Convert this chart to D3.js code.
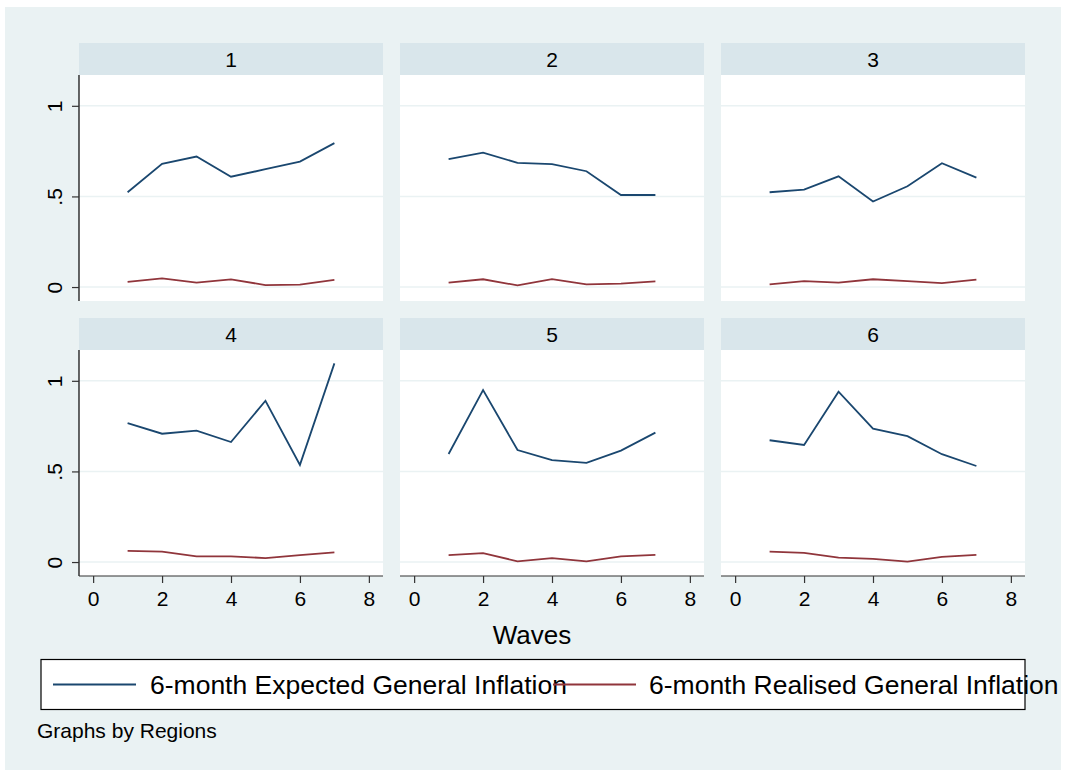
<!DOCTYPE html>
<html>
<head>
<meta charset="utf-8">
<script src="https://cdn.jsdelivr.net/npm/d3@7"></script>
<style>
  html, body { margin: 0; padding: 0; background: #ffffff; }
  svg text { font-family: "Liberation Sans", Arial, Helvetica, sans-serif; fill: #000; }
</style>
</head>
<body>
<svg id="chart" width="1065" height="773"></svg>
<script>
// Region panels and the survey waves on the x axis
const regions = ["1", "2", "3", "4", "5", "6"];
const waves = [1, 2, 3, 4, 5, 6, 7];

// 6-month expected general inflation, one row per region
const expected = [
  [0.523, 0.680, 0.720, 0.609, 0.650, 0.692, 0.794],
  [0.706, 0.742, 0.685, 0.678, 0.639, 0.508, 0.508],
  [0.523, 0.538, 0.611, 0.472, 0.556, 0.683, 0.604],
  [0.767, 0.708, 0.725, 0.662, 0.890, 0.536, 1.096],
  [0.596, 0.949, 0.618, 0.562, 0.547, 0.615, 0.714],
  [0.672, 0.646, 0.940, 0.736, 0.695, 0.595, 0.530]
];

// 6-month realised general inflation, one row per region
const realised = [
  [0.029, 0.048, 0.024, 0.042, 0.011, 0.013, 0.039],
  [0.024, 0.043, 0.009, 0.044, 0.015, 0.019, 0.031],
  [0.015, 0.033, 0.024, 0.043, 0.033, 0.022, 0.041],
  [0.062, 0.057, 0.031, 0.031, 0.022, 0.038, 0.053],
  [0.038, 0.049, 0.004, 0.022, 0.004, 0.031, 0.040],
  [0.057, 0.051, 0.024, 0.018, 0.002, 0.028, 0.040]
];

const xTicks = [0, 2, 4, 6, 8];
const yTicks = [0, 0.5, 1];
const yTickLabels = ["0", ".5", "1"];
const seriesNames = ["6-month Expected General Inflation", "6-month Realised General Inflation"];
const xTitle = "Waves";
const note = "Graphs by Regions";

const colors = ["#1a476f", "#90353b"];
const bg = "#eaf2f3";
const stripFill = "#d9e6eb";

const svg = d3.select("#chart");

// outer graph region
svg.append("rect").attr("x", 5).attr("y", 7).attr("width", 1056).attr("height", 763).attr("fill", bg);

const panelW = 304, plotH = 226, stripH = 32;
const colX = [79, 400, 721];
const rowTop = [43, 318];

const x = d3.scaleLinear().domain([-0.41, 8.41]).range([0, panelW]);
const y = d3.scaleLinear().domain([-0.077, 1.17]).range([plotH, 0]);

const line = d3.line().x((d, i) => x(waves[i])).y(d => y(d));

regions.forEach((name, idx) => {
  const col = idx % 3, row = Math.floor(idx / 3);
  const g = svg.append("g").attr("transform", `translate(${colX[col]},${rowTop[row]})`);

  // header strip
  g.append("rect").attr("width", panelW).attr("height", stripH).attr("fill", stripFill);
  g.append("text").attr("x", panelW / 2).attr("y", stripH / 2 + 7.5)
    .attr("text-anchor", "middle").attr("font-size", 21).text(name);

  const p = g.append("g").attr("transform", `translate(0,${stripH})`);
  p.append("rect").attr("width", panelW).attr("height", plotH).attr("fill", "#ffffff");

  // horizontal grid
  p.selectAll("line.grid").data(yTicks).join("line")
    .attr("x1", 0).attr("x2", panelW)
    .attr("y1", d => y(d)).attr("y2", d => y(d))
    .attr("stroke", bg).attr("stroke-width", 1.6);

  // series
  [expected[idx], realised[idx]].forEach((vals, s) => {
    p.append("path").datum(vals).attr("d", line)
      .attr("fill", "none").attr("stroke", colors[s]).attr("stroke-width", 1.8)
      .attr("stroke-linejoin", "miter");
  });

  // left axis on the first column
  if (col === 0) {
    const ay = p.append("g").call(d3.axisLeft(y).tickValues(yTicks)
      .tickFormat((d, i) => yTickLabels[i]).tickSize(7).tickPadding(0));
    ay.select(".domain").attr("d", `M0,0V${plotH}`).attr("stroke", "#000").attr("stroke-width", 1.2);
    ay.selectAll(".tick line").attr("stroke", "#333").attr("stroke-width", 1.2);
    ay.selectAll(".tick text")
      .attr("font-size", 21).attr("font-family", null).attr("fill", "#000")
      .attr("text-anchor", "middle").attr("x", null).attr("dy", null)
      .attr("transform", "translate(-17,0) rotate(-90)");
  }

  // bottom axis on the second row
  if (row === 1) {
    const ax = p.append("g").attr("transform", `translate(0,${plotH})`)
      .call(d3.axisBottom(x).tickValues(xTicks).tickSize(7).tickPadding(8));
    ax.select(".domain").attr("d", `M0,0H${panelW}`).attr("stroke", "#333").attr("stroke-width", 1.2);
    ax.selectAll(".tick line").attr("stroke", "#333").attr("stroke-width", 1.2);
    ax.selectAll(".tick text").attr("font-size", 21).attr("font-family", null).attr("fill", "#000");
  }
});

// x axis title
svg.append("text").attr("x", 532).attr("y", 644).attr("text-anchor", "middle")
  .attr("font-size", 26).text(xTitle);

// legend
const leg = svg.append("g");
leg.append("rect").attr("x", 41).attr("y", 659.5).attr("width", 984).attr("height", 50)
  .attr("fill", "#ffffff").attr("stroke", "#000").attr("stroke-width", 1.2);
const keyX = [53, 553], labelX = [150, 649];
seriesNames.forEach((nm, s) => {
  leg.append("line").attr("x1", keyX[s]).attr("x2", keyX[s] + 83)
    .attr("y1", 684.5).attr("y2", 684.5).attr("stroke", colors[s]).attr("stroke-width", 2);
  leg.append("text").attr("x", labelX[s]).attr("y", 694).attr("font-size", 26.5).text(nm);
});

// note
svg.append("text").attr("x", 37).attr("y", 738).attr("font-size", 21).text(note);
</script>
</body>
</html>
